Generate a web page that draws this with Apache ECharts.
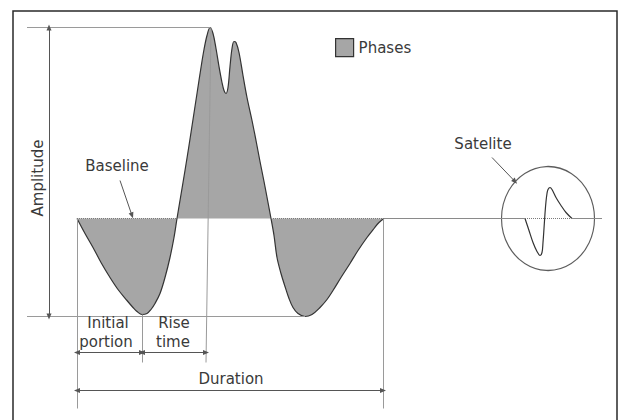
<!DOCTYPE html>
<html>
<head>
<meta charset="utf-8">
<script src="https://cdn.jsdelivr.net/npm/echarts/dist/echarts.min.js"></script>
<style>html,body{margin:0;padding:0;background:#fff}#c{width:621px;height:420px}</style>
</head>
<body>
<div id="c"></div>
<script>
// Main waveform (time units, amplitude units; baseline = 0)
var waveTime = [77,85,93,101,110,118,127,133,137,142,147,151,155,160,165,170,174,177,
  181,185,189,193,197,201,204,207,210,213,216,219,222,224,226,228,230,232,234,236,239,243,247,252,256,260,264,268,271,
  274,277,281,285,289,293,298,305,312,320,327,333,341,350,358,367,374,379,384];
var waveAmp = [0,-15,-29,-44,-59,-71,-82,-89,-93,-96,-95,-91,-85,-75,-59,-39,-19,0,
  24,48,73,99,125,151,169,183,191,185,170,152,136,128,125,131,152,170,177,176,166,143,121,98,78,57,37,16,0,
  -17,-39,-55,-68,-80,-89,-95,-98,-96,-89,-81,-72,-59,-45,-32,-19,-10,-4,0];

// Satellite waveform
var satTime = [525,529,533,537,540,542,543,544,545,546,547,548,550,552,556,561,566,572];
var satAmp  = [0,-12,-24,-33,-37,-34,-24,-10,5,17,25,29,31,29,21,13,6,0];

// Annotation geometry in the same (time, amplitude) space
var refLines = [  // thin grey reference lines
  [[27,191],[210,191]],
  [[27,-98],[305,-98]],
  [[211,191],[206,-144]],
  [[142,-96],[142,-144]],
  [[77,0],[77,-190]],
  [[383,0],[383,-190]]
];
var baseLines = [ [[384,0],[525,0]], [[572,0],[602,0]] ];
var dottedBase = [ [[77,0],[177,0]], [[271,0],[384,0]], [[525,0],[572,0]] ];
var doubleArrows = [
  [[49,191],[49,-98]],    // Amplitude
  [[77,-134],[142,-134]], // Initial portion
  [[142,-134],[206,-134]],// Rise time
  [[77,-172],[383,-172]]  // Duration
];
var pointers = [ [[120,38],[132,3]], [[492,61],[515,37]] ];
var satCenter = [548, 0];

var labels = {
  legend: 'Phases', amplitude: 'Amplitude', baseline: 'Baseline', satelite: 'Satelite',
  initial1: 'Initial', initial2: 'portion', rise1: 'Rise', rise2: 'time', duration: 'Duration'
};

function zip(a, b) { return a.map(function (v, i) { return [v, b[i]]; }); }
function segs(list) { return list.map(function (s) { return [{coord: s[0]}, {coord: s[1]}]; }); }
function ml(list, style, sym, symSize) {
  return {
    silent: true, animation: false, symbol: sym || ['none','none'], symbolSize: symSize || 6,
    label: {show: false}, emphasis: {disabled: true}, lineStyle: style, data: segs(list)
  };
}

var FONT = '15px "DejaVu Sans"';
var TXT = '#3a3a3a';
function txt(t, x, y, extra) {
  var o = {type: 'text', x: x, y: y, silent: true, z: 50,
    style: {text: t, font: FONT, fill: TXT, align: 'center', verticalAlign: 'middle',
      textAlign: 'center', textVerticalAlign: 'middle'}};
  if (extra) for (var k in extra) o[k] = extra[k];
  return o;
}

var chart = echarts.init(document.getElementById('c'), null, {renderer: 'svg'});
chart.setOption({
  animation: false,
  grid: {left: 0, right: 0, top: 0, bottom: 0},
  xAxis: {type: 'value', min: 0, max: 621, show: false},
  yAxis: {type: 'value', min: -201.5, max: 218.5, show: false},
  legend: {
    left: 335, top: 38, padding: 0, itemWidth: 18, itemHeight: 18, selectedMode: false,
    textStyle: {fontFamily: 'DejaVu Sans', fontSize: 15, color: TXT},
    data: [{name: labels.legend, icon: 'rect', itemStyle: {color: '#a6a6a6', borderColor: '#333', borderWidth: 1.2}}]
  },
  series: [
    {name: labels.legend, type: 'line', data: zip(waveTime, waveAmp), smooth: 0.35, symbol: 'none',
     lineStyle: {color: '#333', width: 1.2}, itemStyle: {color: '#a6a6a6'},
     areaStyle: {color: '#a6a6a6', opacity: 1, origin: 0}, z: 2},
    {name: 'sat', type: 'line', data: zip(satTime, satAmp), smooth: 0.35, symbol: 'none',
     lineStyle: {color: '#333', width: 1.2}, z: 3},
    {name: 'ring', type: 'scatter', data: [satCenter], symbol: 'circle', symbolSize: [93, 104],
     itemStyle: {color: 'rgba(0,0,0,0)', borderColor: '#333', borderWidth: 1.2}, silent: true, z: 3},
    {name: 'ref', type: 'line', data: [], z: 4, markLine: ml(refLines, {color: '#9a9a9a', width: 1, type: 'solid'})},
    {name: 'base', type: 'line', data: [], z: 4, markLine: ml(baseLines, {color: '#8a8a8a', width: 1, type: 'solid'})},
    {name: 'dots', type: 'line', data: [], z: 4, markLine: ml(dottedBase, {color: '#7a7a7a', width: 1, type: [1, 1]})},
    {name: 'arr2', type: 'line', data: [], z: 5, markLine: ml(doubleArrows, {color: '#555', width: 1, type: 'solid'}, ['triangle','triangle'], [5, 6])},
    {name: 'arr1', type: 'line', data: [], z: 5, markLine: ml(pointers, {color: '#555', width: 1, type: 'solid'}, ['none','triangle'], [5, 6])}
  ],
  graphic: [
    {type: 'rect', silent: true, z: 100, shape: {x: 13, y: 11, width: 604, height: 430},
     style: {fill: null, stroke: '#2a2a2a', lineWidth: 1.5}},
    txt(labels.amplitude, 38, 178, {rotation: Math.PI / 2}),
    txt(labels.baseline, 117, 166),
    txt(labels.satelite, 483, 144),
    txt(labels.initial1, 108, 323),
    txt(labels.initial2, 106, 341.5),
    txt(labels.rise1, 174, 323),
    txt(labels.rise2, 173, 341.5),
    txt(labels.duration, 231, 379)
  ]
});
</script>
</body>
</html>
